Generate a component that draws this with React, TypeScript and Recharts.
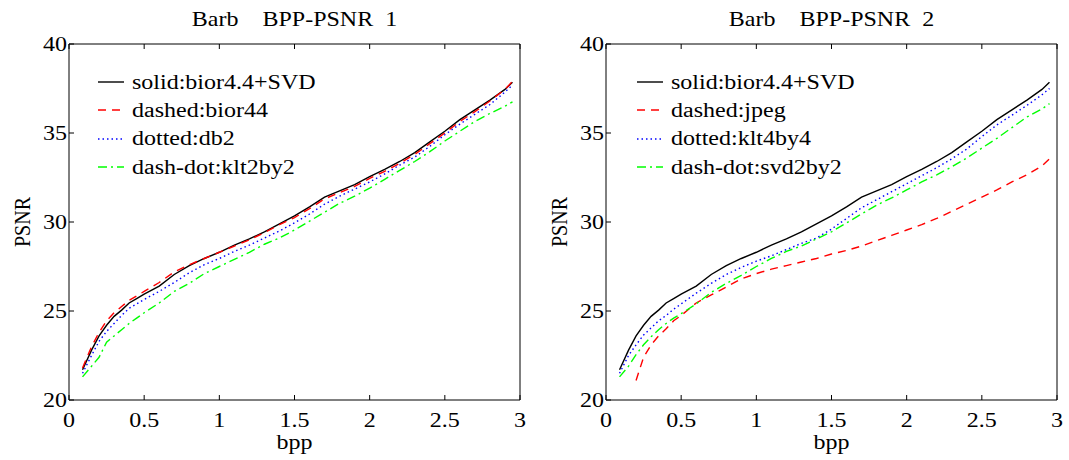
import { LineChart, Line, XAxis, YAxis, Legend, Label } from 'recharts';

// bit rate grid (bpp) shared by every curve
const bpp = [
  0.09, 0.15, 0.2, 0.25, 0.3, 0.35, 0.4, 0.45, 0.5, 0.6, 0.7, 0.8, 0.9, 1.0, 1.1, 1.2, 1.3,
  1.4, 1.5, 1.6, 1.7, 1.8, 1.9, 2.0, 2.1, 2.2, 2.3, 2.4, 2.5, 2.6, 2.7, 2.8, 2.9, 2.95,
];

// PSNR (dB) per method
const psnrBiorSvd = [
  21.7, 22.8, 23.6, 24.2, 24.7, 25.05, 25.45, 25.7, 25.95, 26.4, 27.05, 27.55, 27.95, 28.3, 28.7,
  29.05, 29.45, 29.9, 30.35, 30.85, 31.4, 31.75, 32.1, 32.55, 32.95, 33.4, 33.9, 34.5, 35.1, 35.75,
  36.3, 36.85, 37.45, 37.85,
];
const psnrBior44 = [
  21.8, 23.0, 23.8, 24.45, 24.9, 25.25, 25.6, 25.85, 26.1, 26.6, 27.2, 27.6, 27.95, 28.3, 28.65,
  29.0, 29.4, 29.85, 30.25, 30.75, 31.3, 31.65, 32.0, 32.45, 32.85, 33.3, 33.8, 34.4, 35.0, 35.65,
  36.2, 36.8, 37.45, 37.9,
];
const psnrDb2 = [
  21.5, 22.5, 23.3, 23.85, 24.3, 24.75, 25.15, 25.4, 25.65, 26.1, 26.6, 27.15, 27.6, 27.95, 28.35,
  28.7, 29.1, 29.5, 29.95, 30.45, 31.0, 31.45, 31.85, 32.25, 32.7, 33.2, 33.65, 34.25, 34.9, 35.5,
  36.05, 36.6, 37.3, 37.7,
];
const psnrKlt2by2 = [
  21.3, 21.9, 22.4, 23.25, 23.6, 23.95, 24.3, 24.6, 24.9, 25.45, 26.1, 26.55, 27.1, 27.5, 27.9,
  28.3, 28.75, 29.1, 29.55, 30.05, 30.55, 31.05, 31.45, 31.9, 32.4, 32.9, 33.4, 33.95, 34.55, 35.1,
  35.65, 36.1, 36.5, 36.75,
];
const psnrJpeg = [
  null, null, 21.1, 22.4, 23.1, 23.6, 24.0, 24.45, 24.75, 25.45, 25.9, 26.35, 26.8, 27.1, 27.35,
  27.55, 27.75, 27.95, 28.2, 28.4, 28.65, 28.95, 29.25, 29.55, 29.85, 30.2, 30.6, 31.0, 31.4, 31.8,
  32.25, 32.65, 33.15, 33.55,
];
const psnrKlt4by4 = [
  21.5, 22.5, 23.1, 23.65, 24.05, 24.45, 24.75, 25.1, 25.4, 26.0, 26.55, 27.05, 27.45, 27.8, 28.1,
  28.45, 28.8, 29.1, 29.6, 30.2, 30.8, 31.25, 31.7, 32.15, 32.6, 33.05, 33.55, 34.1, 34.8, 35.45,
  36.0, 36.55, 37.15, 37.5,
];
const psnrSvd2by2 = [
  21.3, 21.9, 22.55, 23.1, 23.55, 23.95, 24.3, 24.6, 24.85, 25.4, 26.05, 26.55, 27.0, 27.5, 27.95,
  28.35, 28.65, 29.05, 29.45, 29.95, 30.45, 30.95, 31.35, 31.8, 32.25, 32.65, 33.1, 33.6, 34.15,
  34.7, 35.3, 35.9, 36.35, 36.65,
];

const xTicks = [0, 0.5, 1, 1.5, 2, 2.5, 3];
const yTicks = [20, 25, 30, 35, 40];

const FONT = '"Liberation Serif", "Times New Roman", serif';
// the reference is stretched sideways a bit, so text gets a horizontal scale
const SX = 1.2;

type Series = { key: string; name: string; values: (number | null)[]; color: string; dash?: string };

const leftSeries: Series[] = [
  { key: 's', name: 'solid:bior4.4+SVD', values: psnrBiorSvd, color: '#000000' },
  { key: 'd', name: 'dashed:bior44', values: psnrBior44, color: '#ff0000', dash: '8 6' },
  { key: 'o', name: 'dotted:db2', values: psnrDb2, color: '#0000ff', dash: '1.5 3' },
  { key: 'c', name: 'dash-dot:klt2by2', values: psnrKlt2by2, color: '#00ff00', dash: '9 4 2 4' },
];
const rightSeries: Series[] = [
  { key: 's', name: 'solid:bior4.4+SVD', values: psnrBiorSvd, color: '#000000' },
  { key: 'd', name: 'dashed:jpeg', values: psnrJpeg, color: '#ff0000', dash: '8 6' },
  { key: 'o', name: 'dotted:klt4by4', values: psnrKlt4by4, color: '#0000ff', dash: '1.5 3' },
  { key: 'c', name: 'dash-dot:svd2by2', values: psnrSvd2by2, color: '#00ff00', dash: '9 4 2 4' },
];

const BottomTick = ({ x, y, payload }: any) => (
  <g>
    <line x1={x} x2={x} y1={y} y2={y - 5} stroke="#000" />
    <text transform={`translate(${x},${y + 27}) scale(${SX},1)`} textAnchor="middle" fontSize={20} fontFamily={FONT} fill="#000">
      {payload.value}
    </text>
  </g>
);
const TopTick = ({ x, y }: any) => <line x1={x} x2={x} y1={y} y2={y + 5} stroke="#000" />;
const LeftTick = ({ x, y, payload }: any) => (
  <g>
    <line x1={x} x2={x + 5} y1={y} y2={y} stroke="#000" />
    <text transform={`translate(${x - 2},${y + 7}) scale(${SX},1)`} textAnchor="end" fontSize={20} fontFamily={FONT} fill="#000">
      {payload.value}
    </text>
  </g>
);
const RightTick = ({ x, y }: any) => <line x1={x} x2={x - 5} y1={y} y2={y} stroke="#000" />;

function Panel({ title, series, left, width, margin, legendLeft }: {
  title: string; series: Series[]; left: number; width: number;
  margin: { top: number; right: number; bottom: number; left: number }; legendLeft: number;
}) {
  const data = bpp.map((b, i) => {
    const row: Record<string, number | null> = { bpp: b };
    series.forEach((s) => { row[s.key] = s.values[i]; });
    return row;
  });

  const legend = () => (
    <div style={{ fontFamily: FONT, fontSize: 20, color: '#000' }}>
      {series.map((s) => (
        <div key={s.key} style={{ display: 'flex', alignItems: 'center', height: 28.3 }}>
          <svg width={26} height={10}>
            <line x1={0} y1={5} x2={26} y2={5} stroke={s.color} strokeWidth={1.4} strokeDasharray={s.dash} />
          </svg>
          <span style={{ marginLeft: 8, display: 'inline-block', transform: `scaleX(${SX})`, transformOrigin: 'left center', whiteSpace: 'nowrap' }}>
            {s.name}
          </span>
        </div>
      ))}
    </div>
  );

  // axes are 1px thick, so the margins are 1px smaller than the plot box
  return (
    <div style={{ position: 'absolute', left, top: 0 }}>
      <LineChart width={width} height={460} data={data} margin={margin}>
        <XAxis dataKey="bpp" type="number" domain={[0, 3]} ticks={xTicks} interval={0} height={1}
          tickSize={0} tickMargin={0} tickLine={false} tick={<BottomTick />} axisLine={{ stroke: '#000' }}>
          <Label content={({ viewBox }: any) => (
            <text transform={`translate(${viewBox.x + viewBox.width / 2},${viewBox.y + 49}) scale(${SX},1)`}
              textAnchor="middle" fontSize={20} fontFamily={FONT} fill="#000">bpp</text>
          )} />
        </XAxis>
        <XAxis xAxisId="top" orientation="top" dataKey="bpp" type="number" domain={[0, 3]} ticks={xTicks} interval={0} height={1}
          tickSize={0} tickMargin={0} tickLine={false} tick={<TopTick />} axisLine={{ stroke: '#000' }}>
          <Label content={({ viewBox }: any) => (
            <text transform={`translate(${viewBox.x + viewBox.width / 2},${viewBox.y - 17}) scale(${SX},1)`}
              textAnchor="middle" fontSize={20} fontFamily={FONT} fill="#000" style={{ whiteSpace: 'pre' }}>{title}</text>
          )} />
        </XAxis>
        <YAxis type="number" domain={[20, 40]} ticks={yTicks} interval={0} width={1}
          tickSize={0} tickMargin={0} tickLine={false} tick={<LeftTick />} axisLine={{ stroke: '#000' }}>
          <Label content={({ viewBox }: any) => (
            <text transform={`translate(${viewBox.x - 38},${viewBox.y + viewBox.height / 2}) scale(${SX},1) rotate(-90)`}
              textAnchor="middle" fontSize={20} fontFamily={FONT} fill="#000">PSNR</text>
          )} />
        </YAxis>
        <YAxis yAxisId="right" orientation="right" type="number" domain={[20, 40]} ticks={yTicks} interval={0} width={1}
          tickSize={0} tickMargin={0} tickLine={false} tick={<RightTick />} axisLine={{ stroke: '#000' }} />
        <Legend layout="vertical" align="center" verticalAlign="middle" content={legend}
          wrapperStyle={{ left: legendLeft, top: 68 }} />
        {series.map((s) => (
          <Line key={s.key} type="linear" dataKey={s.key} name={s.name} stroke={s.color} strokeWidth={1.4}
            strokeDasharray={s.dash} dot={false} activeDot={false} isAnimationActive={false} />
        ))}
      </LineChart>
    </div>
  );
}

export default function App() {
  return (
    <div style={{ position: 'absolute', left: 0, top: 0, width: 1069, height: 460, background: '#fff' }}>
      <Panel title="Barb    BPP-PSNR  1" series={leftSeries} left={0} width={540}
        margin={{ top: 43, right: 19, bottom: 59, left: 68 }} legendLeft={98} />
      <Panel title="Barb    BPP-PSNR  2" series={rightSeries} left={540} width={529}
        margin={{ top: 43, right: 11, bottom: 59, left: 65 }} legendLeft={97} />
    </div>
  );
}
